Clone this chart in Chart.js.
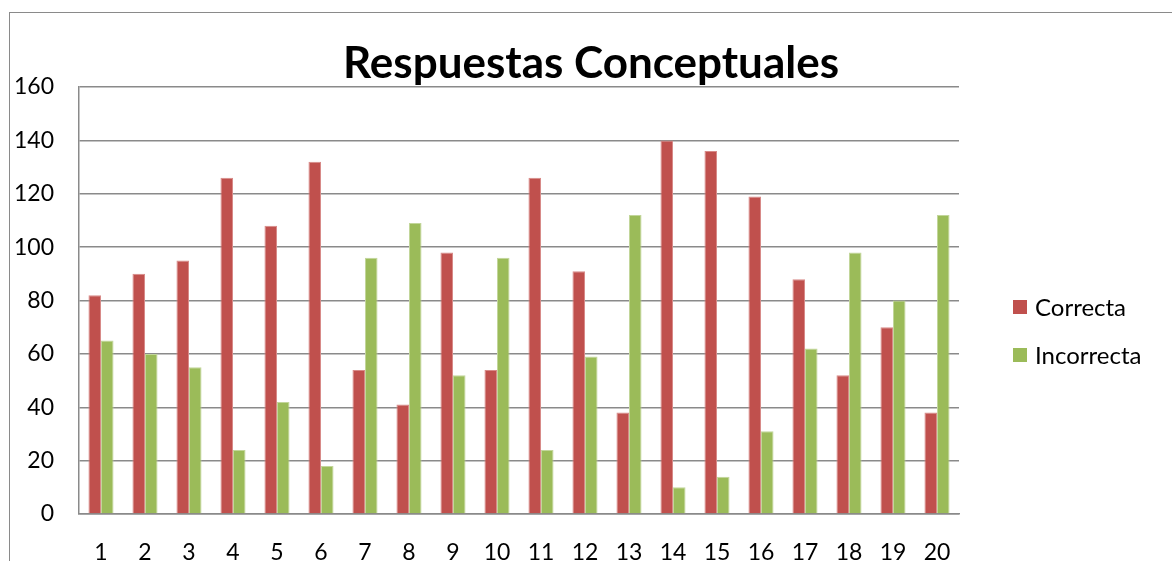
<!DOCTYPE html>
<html>
<head>
<meta charset="utf-8">
<script src="https://cdn.jsdelivr.net/npm/chart.js@4/dist/chart.umd.min.js"></script>
<style>
  html, body { margin: 0; padding: 0; background: #fff; overflow: hidden; }
  #wrap { position: relative; width: 1172px; height: 561px; }
  #frame { position: absolute; left: 9px; top: 12px; width: 1200px; height: 600px; border: 1px solid #8a8a8a; box-sizing: border-box; }
  canvas { position: absolute; left: 0; top: 0; }
</style>
</head>
<body>
<div id="wrap">
  <div id="frame"></div>
  <canvas id="respChart" width="1172" height="561"></canvas>
</div>
<script>
const chartTitle = 'Respuestas Conceptuales';
const categories = ['1','2','3','4','5','6','7','8','9','10','11','12','13','14','15','16','17','18','19','20'];
const correcta   = [82, 90, 95, 126, 108, 132, 54, 41, 98, 54, 126, 91, 38, 140, 136, 119, 88, 52, 70, 38];
const incorrecta = [65, 60, 55, 24, 42, 18, 96, 109, 52, 96, 24, 59, 112, 10, 14, 31, 62, 98, 80, 112];
const yMin = 0, yMax = 160, yStep = 20;

const FONT = 'Lato, "Open Sans", sans-serif';
const GRID = '#8a8a8a';

// title + legend drawn like the Excel chart (title centred on the whole frame, legend at the right)
const excelText = {
  id: 'excelText',
  afterDraw(chart) {
    const ctx = chart.ctx;
    ctx.save();
    ctx.fillStyle = '#000';
    ctx.font = 'bold 44px ' + FONT;
    ctx.textAlign = 'center';
    ctx.textBaseline = 'middle';
    ctx.fillText(chartTitle, 591, 64);

    ctx.font = '24px ' + FONT;
    ctx.textAlign = 'left';
    const x = chart.chartArea.right + 54;
    chart.data.datasets.forEach((ds, i) => {
      const y = 307 + i * 48;
      ctx.fillStyle = ds.backgroundColor;
      ctx.fillRect(x, y - 7, 14, 14);
      ctx.fillStyle = '#000';
      ctx.fillText(ds.label, x + 22, y + 1);
    });
    ctx.restore();
  }
};

const ctx = document.getElementById('respChart').getContext('2d');
new Chart(ctx, {
  type: 'bar',
  data: {
    labels: categories,
    datasets: [
      {
        label: 'Correcta',
        data: correcta,
        backgroundColor: '#C0504D',
        borderColor: '#d88a88',
        borderWidth: 1
      },
      {
        label: 'Incorrecta',
        data: incorrecta,
        backgroundColor: '#9BBB59',
        borderColor: '#c2d69a',
        borderWidth: 1
      }
    ]
  },
  options: {
    responsive: false,
    animation: false,
    layout: { padding: { left: 0, top: 87, right: 213, bottom: 0 } },
    datasets: { bar: { categoryPercentage: 0.57, barPercentage: 1 } },
    plugins: {
      legend: { display: false },
      title: { display: false },
      tooltip: { enabled: false }
    },
    scales: {
      x: {
        grid: { display: false, drawTicks: false },
        border: { color: GRID, width: 1.5 },
        ticks: { color: '#000', padding: 27, font: { family: FONT, size: 23, lineHeight: 1 } },
        afterFit(scale) { scale.height = 47; }
      },
      y: {
        min: yMin,
        max: yMax,
        grid: { color: GRID, lineWidth: 1.5, drawTicks: false },
        border: { color: GRID, width: 1.5 },
        ticks: { stepSize: yStep, color: '#000', padding: 25, font: { family: FONT, size: 23 } },
        afterFit(scale) { scale.width = 79; }
      }
    }
  },
  plugins: [excelText]
});
</script>
</body>
</html>
